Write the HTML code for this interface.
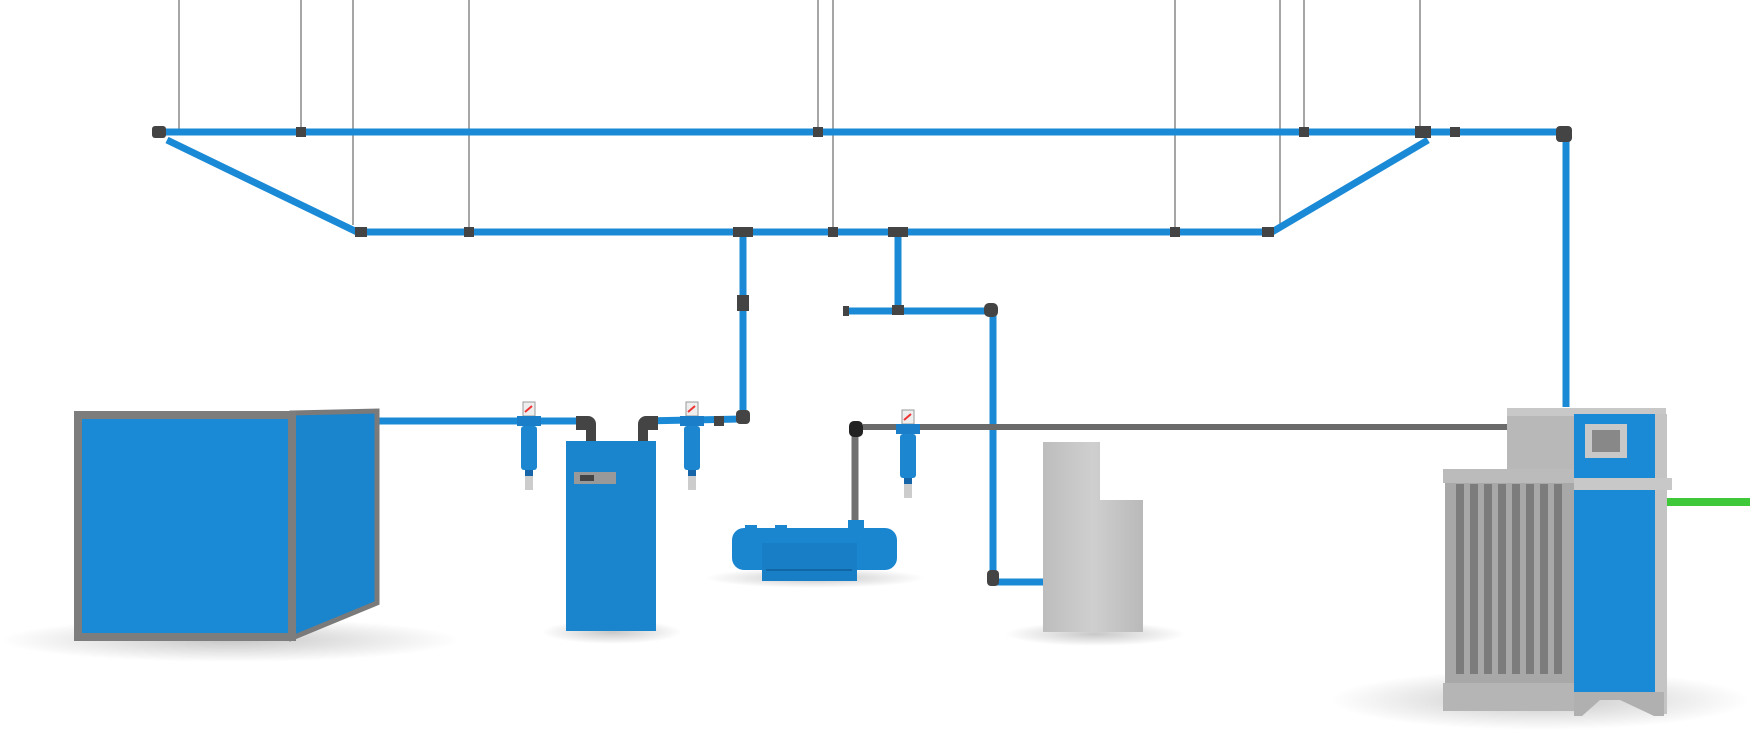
<!DOCTYPE html>
<html><head><meta charset="utf-8"><style>html,body{margin:0;padding:0;background:#fff;width:1750px;height:750px;overflow:hidden}</style></head>
<body>
<svg width="1750" height="750" viewBox="0 0 1750 750" xmlns="http://www.w3.org/2000/svg">
<defs>
<radialGradient id="sh"><stop offset="0" stop-color="#000" stop-opacity="0.22"/><stop offset="1" stop-color="#000" stop-opacity="0"/></radialGradient>
<linearGradient id="gc" x1="0" x2="1"><stop offset="0" stop-color="#bdbdbd"/><stop offset="0.5" stop-color="#cfcfcf"/><stop offset="1" stop-color="#b9b9b9"/></linearGradient>
<g id="filt"><rect x="-6" y="0" width="12" height="14" fill="#eee" stroke="#999"/><path d="M-4 10 L3 4" stroke="#e33" stroke-width="2"/><rect x="-12" y="14" width="24" height="10" fill="#1a7fc8"/><rect x="-8" y="24" width="16" height="44" rx="3" fill="#1c86d0"/><rect x="-4" y="68" width="8" height="6" fill="#1565a8"/><rect x="-4" y="74" width="8" height="14" fill="#ccc"/></g>
</defs>
<ellipse cx="230" cy="640" rx="230" ry="22" fill="url(#sh)"/>
<ellipse cx="612" cy="632" rx="70" ry="12" fill="url(#sh)"/>
<ellipse cx="815" cy="578" rx="110" ry="10" fill="url(#sh)"/>
<ellipse cx="1095" cy="634" rx="90" ry="12" fill="url(#sh)"/>
<ellipse cx="1540" cy="700" rx="210" ry="30" fill="url(#sh)"/>
<g stroke="#777" stroke-width="1.3">
<line x1="179" y1="0" x2="179" y2="132"/><line x1="301" y1="0" x2="301" y2="132"/><line x1="353" y1="0" x2="353" y2="225"/><line x1="469" y1="0" x2="469" y2="232"/><line x1="818" y1="0" x2="818" y2="132"/><line x1="833" y1="0" x2="833" y2="232"/><line x1="1175" y1="0" x2="1175" y2="232"/><line x1="1280" y1="0" x2="1280" y2="225"/><line x1="1304" y1="0" x2="1304" y2="132"/><line x1="1420" y1="0" x2="1420" y2="132"/>
</g>
<g stroke="#1a8ad6" stroke-width="7" fill="none">
<line x1="160" y1="132" x2="1562" y2="132"/>
<line x1="167" y1="140" x2="357" y2="232"/>
<line x1="357" y1="232" x2="1272" y2="232"/>
<line x1="1428" y1="140" x2="1272" y2="232"/>
<line x1="1566" y1="134" x2="1566" y2="407"/>
<polyline points="743,232 743,419 642,421"/>
<line x1="898" y1="232" x2="898" y2="310"/>
<polyline points="845,311 993,311 993,582 1048,582"/>
<line x1="310" y1="421" x2="590" y2="421"/>
</g>
<line x1="1666" y1="502" x2="1750" y2="502" stroke="#3ec83a" stroke-width="8"/>
<line x1="863" y1="427" x2="1507" y2="427" stroke="#6a6a6a" stroke-width="6"/>
<line x1="855" y1="430" x2="855" y2="520" stroke="#707070" stroke-width="7"/>
<g fill="#444">
<rect x="152" y="126" width="14" height="12" rx="3"/><rect x="296" y="127" width="10" height="10"/><rect x="813" y="127" width="10" height="10"/><rect x="1299" y="127" width="10" height="10"/><rect x="1415" y="126" width="16" height="12"/><rect x="1450" y="127" width="10" height="10"/><rect x="1556" y="126" width="16" height="16" rx="4"/>
<rect x="355" y="227" width="12" height="10"/><rect x="464" y="227" width="10" height="10"/><rect x="733" y="227" width="20" height="10"/><rect x="828" y="227" width="10" height="10"/><rect x="888" y="227" width="20" height="10"/><rect x="1170" y="227" width="10" height="10"/><rect x="1262" y="227" width="12" height="10"/>
<rect x="737" y="295" width="12" height="16"/><rect x="736" y="410" width="14" height="14" rx="4"/><rect x="714" y="416" width="10" height="10"/>
<rect x="892" y="305" width="12" height="10"/><rect x="843" y="306" width="6" height="10"/><rect x="984" y="303" width="14" height="14" rx="5"/><rect x="987" y="570" width="12" height="16" rx="4"/>
<path d="M576 416 h12 a8 8 0 0 1 8 8 v18 h-10 v-12 h-10 z"/>
<path d="M658 416 h-12 a8 8 0 0 0 -8 8 v18 h10 v-12 h10 z"/>
<rect x="849" y="421" width="14" height="16" rx="5" fill="#222"/>
</g>
<use href="#filt" x="529" y="402"/>
<use href="#filt" x="692" y="402"/>
<use href="#filt" x="908" y="410"/>
<polygon points="292,413 377,411 377,603 292,638" fill="#1a84cc" stroke="#7a7a7a" stroke-width="5"/>
<rect x="78" y="415" width="214" height="222" fill="#1a8ad6" stroke="#7d7d7d" stroke-width="8"/>
<rect x="566" y="441" width="90" height="190" fill="#1a84cc"/>
<rect x="574" y="472" width="42" height="12" fill="#999"/><rect x="580" y="475" width="14" height="6" fill="#444"/>
<rect x="732" y="528" width="165" height="42" rx="12" fill="#1a86d0"/>
<rect x="762" y="543" width="95" height="38" fill="#187ec6"/>
<line x1="766" y1="570" x2="852" y2="570" stroke="#0f5f9a" stroke-width="1.5"/>
<rect x="848" y="520" width="16" height="12" fill="#1a86d0"/>
<rect x="745" y="525" width="12" height="6" fill="#1a86d0"/><rect x="775" y="525" width="12" height="6" fill="#1a86d0"/>
<path d="M1043 442 H1100 V500 H1143 V632 H1043 Z" fill="url(#gc)"/>
<rect x="1507" y="408" width="67" height="300" fill="#b8b8b8"/>
<rect x="1443" y="469" width="131" height="14" fill="#bbb"/>
<rect x="1445" y="483" width="129" height="200" fill="#a8a8a8"/>
<g fill="#7c7c7c"><rect x="1456" y="484" width="8" height="190"/><rect x="1470" y="484" width="8" height="190"/><rect x="1484" y="484" width="8" height="190"/><rect x="1498" y="484" width="8" height="190"/><rect x="1512" y="484" width="8" height="190"/><rect x="1526" y="484" width="8" height="190"/><rect x="1540" y="484" width="8" height="190"/><rect x="1554" y="484" width="8" height="190"/></g>
<rect x="1443" y="683" width="131" height="28" fill="#b5b5b5"/>
<rect x="1507" y="408" width="159" height="8" fill="#c8c8c8"/>
<rect x="1574" y="414" width="90" height="278" fill="#1a8ad6"/>
<rect x="1655" y="414" width="12" height="300" fill="#c4c4c4"/>
<rect x="1585" y="424" width="42" height="34" fill="#c8c8c8"/><rect x="1592" y="430" width="28" height="22" fill="#888"/>
<rect x="1574" y="478" width="98" height="12" fill="#c8c8c8"/>
<path d="M1574 692 H1664 V716 H1654 L1620 700 H1600 L1582 716 H1574 Z" fill="#b0b0b0"/>
</svg>
</body></html>
